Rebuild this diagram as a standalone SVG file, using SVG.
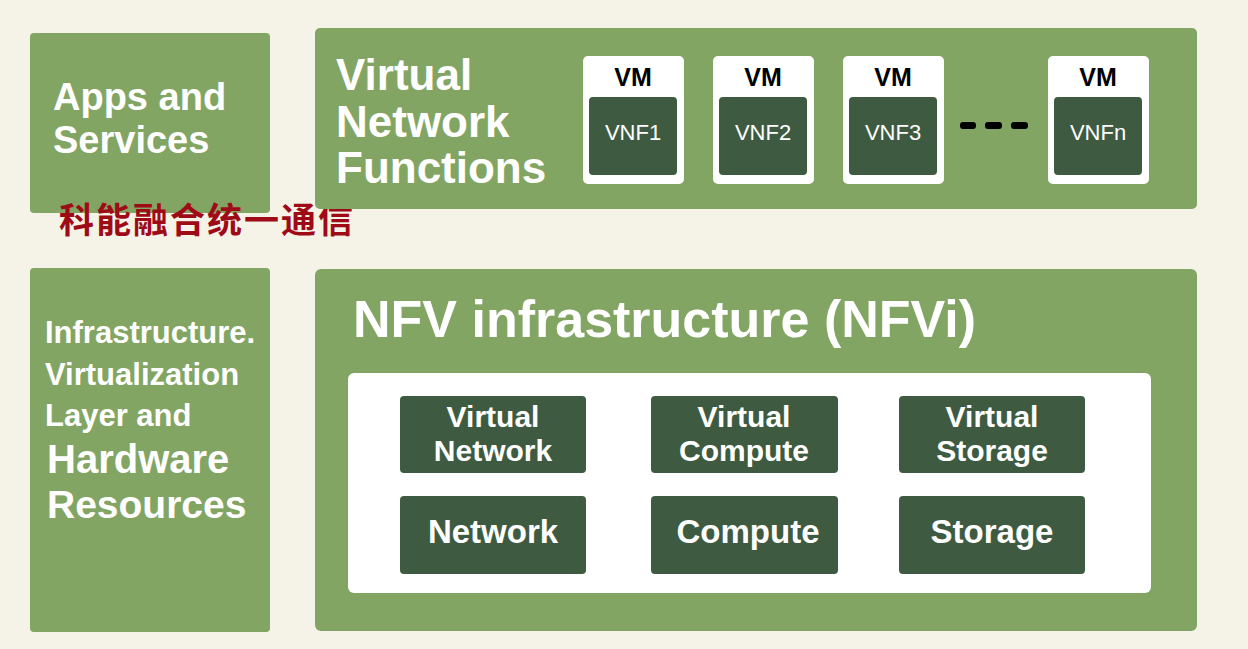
<svg xmlns="http://www.w3.org/2000/svg" width="1248" height="649" viewBox="0 0 1248 649">
<style>
.bg{fill:#f5f2e7}
.g{fill:#83a563}
.d{fill:#3e5b42}
.w{fill:#ffffff}
.t{font-family:"Liberation Sans",Arial,sans-serif;fill:#ffffff;font-weight:bold}
.vm{font-family:"Liberation Sans",Arial,sans-serif;fill:#000000;font-weight:bold;font-size:25px;text-anchor:middle}
.vnf{font-family:"Liberation Sans",Arial,sans-serif;fill:#ffffff;font-size:22px;text-anchor:middle}
.res{font-family:"Liberation Sans",Arial,sans-serif;fill:#ffffff;font-weight:bold;font-size:33px;text-anchor:middle}
.res2{font-family:"Liberation Sans",Arial,sans-serif;fill:#ffffff;font-weight:bold;font-size:30px;text-anchor:middle}
</style>
<rect class="bg" x="0" y="0" width="1248" height="649"/>

<g id="apps">
<rect class="g" x="30" y="33" width="240" height="180" rx="4"/>
<text class="t" x="53" y="110" font-size="38">Apps and</text>
<text class="t" x="53" y="153" font-size="38">Services</text>
</g>

<g id="watermark">
<text x="59" y="233" font-family="'Noto Sans CJK SC',sans-serif" font-weight="bold" font-size="35" fill="#9e0b17" letter-spacing="2">科能融合统一通信</text>
</g>

<g id="vnf-layer">
<rect class="g" x="315" y="28" width="882" height="181" rx="5"/>
<text class="t" x="336" y="90" font-size="44">Virtual</text>
<text class="t" x="336" y="137" font-size="44">Network</text>
<text class="t" x="336" y="183" font-size="44">Functions</text>
</g>

<g id="vm1">
<rect class="w" x="583" y="56" width="101" height="128" rx="5"/>
<text class="vm" x="633" y="86">VM</text>
<rect class="d" x="589" y="97" width="88" height="78" rx="4"/>
<text class="vnf" x="633" y="140">VNF1</text>
</g>
<g id="vm2">
<rect class="w" x="713" y="56" width="101" height="128" rx="5"/>
<text class="vm" x="763" y="86">VM</text>
<rect class="d" x="719" y="97" width="88" height="78" rx="4"/>
<text class="vnf" x="763" y="140">VNF2</text>
</g>
<g id="vm3">
<rect class="w" x="843" y="56" width="101" height="128" rx="5"/>
<text class="vm" x="893" y="86">VM</text>
<rect class="d" x="849" y="97" width="88" height="78" rx="4"/>
<text class="vnf" x="893" y="140">VNF3</text>
</g>
<g id="dots">
<rect x="960" y="122" width="16" height="7" rx="3" fill="#000"/>
<rect x="985" y="122" width="17" height="7" rx="3" fill="#000"/>
<rect x="1011" y="122" width="17" height="7" rx="3" fill="#000"/>
</g>
<g id="vmn">
<rect class="w" x="1048" y="56" width="101" height="128" rx="5"/>
<text class="vm" x="1098" y="86">VM</text>
<rect class="d" x="1054" y="97" width="88" height="78" rx="4"/>
<text class="vnf" x="1098" y="140">VNFn</text>
</g>

<g id="infra">
<rect class="g" x="30" y="268" width="240" height="364" rx="4"/>
<text class="t" x="45" y="343" font-size="31">Infrastructure.</text>
<text class="t" x="45" y="385" font-size="31">Virtualization</text>
<text class="t" x="45" y="426" font-size="31">Layer and</text>
<text class="t" x="47" y="473" font-size="40">Hardware</text>
<text class="t" x="47" y="518" font-size="39">Resources</text>
</g>

<g id="nfvi">
<rect class="g" x="315" y="269" width="882" height="362" rx="6"/>
<text class="t" x="353" y="337" font-size="52">NFV infrastructure (NFVi)</text>
<rect class="w" x="348" y="373" width="803" height="220" rx="6"/>
</g>

<g id="virtual-network">
<rect class="d" x="400" y="396" width="186" height="77" rx="4"/>
<text class="res2" x="493" y="427">Virtual</text>
<text class="res2" x="493" y="461">Network</text>
</g>
<g id="virtual-compute">
<rect class="d" x="651" y="396" width="187" height="77" rx="4"/>
<text class="res2" x="744" y="427">Virtual</text>
<text class="res2" x="744" y="461">Compute</text>
</g>
<g id="virtual-storage">
<rect class="d" x="899" y="396" width="186" height="77" rx="4"/>
<text class="res2" x="992" y="427">Virtual</text>
<text class="res2" x="992" y="461">Storage</text>
</g>
<g id="network">
<rect class="d" x="400" y="496" width="186" height="78" rx="4"/>
<text class="res" x="493" y="543">Network</text>
</g>
<g id="compute">
<rect class="d" x="651" y="496" width="187" height="78" rx="4"/>
<text class="res" x="748" y="543">Compute</text>
</g>
<g id="storage">
<rect class="d" x="899" y="496" width="186" height="78" rx="4"/>
<text class="res" x="992" y="543">Storage</text>
</g>
</svg>
